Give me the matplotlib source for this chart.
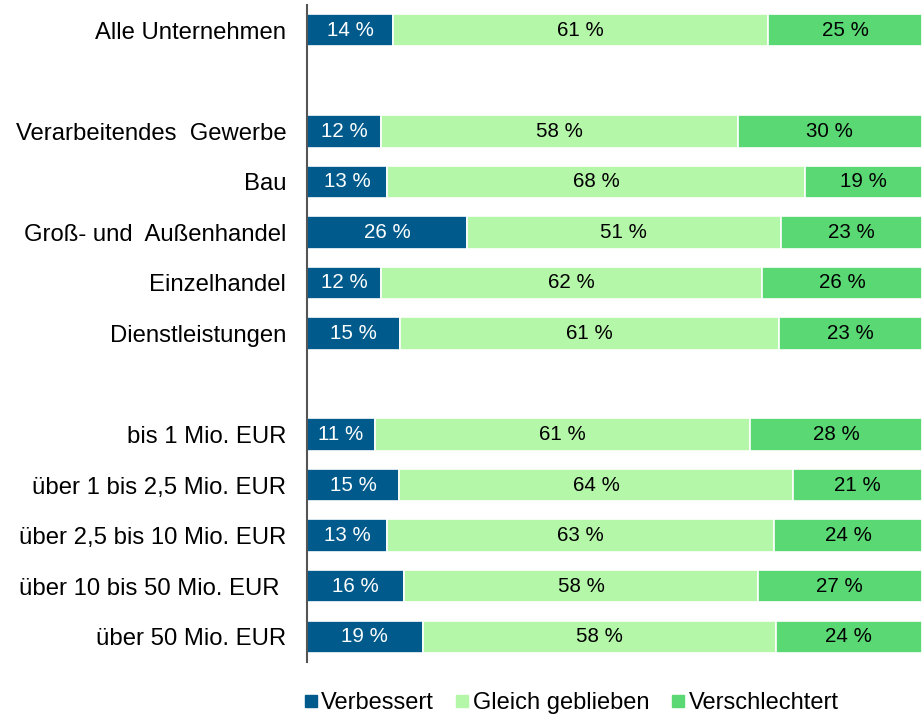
import matplotlib.pyplot as plt
from matplotlib.lines import Line2D

plt.rcParams['font.family'] = ['Liberation Sans', 'DejaVu Sans']

# DATA
categories = ['Alle Unternehmen', '',
              'Verarbeitendes  Gewerbe', 'Bau', 'Groß- und  Außenhandel',
              'Einzelhandel', 'Dienstleistungen', '',
              'bis 1 Mio. EUR', 'über 1 bis 2,5 Mio. EUR', 'über 2,5 bis 10 Mio. EUR',
              'über 10 bis 50 Mio. EUR ', 'über 50 Mio. EUR']
verbessert = [14, None, 12, 13, 26, 12, 15, None, 11, 15, 13, 16, 19]
gleich = [61, None, 58, 68, 51, 62, 61, None, 61, 64, 63, 58, 58]
verschlechtert = [25, None, 30, 19, 23, 26, 23, None, 28, 21, 24, 27, 24]

series_names = ['Verbessert', 'Gleich geblieben', 'Verschlechtert']
colors = ['#005A8C', '#B5F7A9', '#5AD873']
text_colors = ['white', 'black', 'black']

fig = plt.figure(figsize=(9.22, 7.18), dpi=100)
ax = fig.add_axes([0.333, 0.078, 0.667, 0.915])

series = [verbessert, gleich, verschlechtert]
for i, cat in enumerate(categories):
    if verbessert[i] is None:
        continue
    # 100 % stacked: scale each row to its total
    total = sum(vals[i] for vals in series)
    left = 0
    for s, vals in enumerate(series):
        v = vals[i]
        w = v / total * 100
        ax.barh(i, w, left=left, height=0.64, color=colors[s],
                edgecolor='white', linewidth=1.2)
        ax.text(left + w / 2, i, f'{v} %', ha='center', va='center',
                fontsize=14.8, color=text_colors[s])
        left += w

ax.set_xlim(0, 100)
ax.set_ylim(12.5, -0.5)
ax.set_yticks(range(len(categories)))
ax.set_yticklabels(categories, fontsize=17.2)
ax.tick_params(axis='y', length=0, pad=15)
ax.set_xticks([])
for sp in ['top', 'right', 'bottom']:
    ax.spines[sp].set_visible(False)
ax.spines['left'].set_color('#555555')
ax.spines['left'].set_linewidth(1.5)

handles = [Line2D([0], [0], marker='s', linestyle='', markersize=8,
                  markerfacecolor=c, markeredgecolor=c) for c in colors]
fig.legend(handles, series_names, loc='lower center', ncol=3,
           bbox_to_anchor=(0.618, -0.024), frameon=False, fontsize=17,
           handletextpad=0.05, columnspacing=0.8, handlelength=0.8)

fig.savefig('out.png', dpi=100, facecolor='white')
